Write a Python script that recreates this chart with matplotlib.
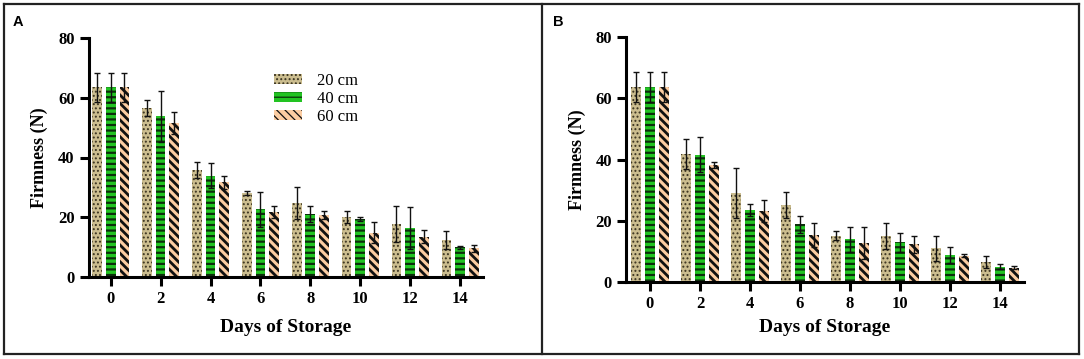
import matplotlib
matplotlib.use("Agg")
import matplotlib.pyplot as plt
import numpy as np
from matplotlib.lines import Line2D

# %%
days = ["0", "2", "4", "6", "8", "10", "12", "14"]
labels = ["20 cm", "40 cm", "60 cm"]

# panel A
a_20 = [63.5, 56.6, 35.8, 28.0, 24.6, 20.1, 17.7, 12.3]
a_20_err = [5.0, 2.8, 2.8, 0.6, 5.4, 2.0, 5.9, 2.9]
a_40 = [63.5, 53.8, 33.9, 22.6, 21.0, 19.4, 16.3, 9.8]
a_40_err = [5.0, 8.6, 4.2, 5.9, 2.6, 0.8, 7.0, 0.6]
a_60 = [63.5, 51.5, 31.7, 21.7, 20.7, 14.8, 13.4, 9.5]
a_60_err = [5.0, 3.7, 2.2, 2.1, 1.4, 3.4, 2.2, 1.1]

# panel B
b_20 = [63.7, 41.7, 29.0, 25.2, 15.2, 15.1, 11.1, 6.7]
b_20_err = [4.9, 4.9, 8.1, 4.3, 1.5, 4.1, 4.1, 2.0]
b_40 = [63.7, 41.5, 23.6, 18.9, 14.0, 13.0, 8.9, 5.1]
b_40_err = [4.9, 5.7, 1.9, 2.7, 4.1, 3.0, 2.7, 0.8]
b_60 = [63.7, 38.2, 23.3, 15.4, 12.9, 12.4, 8.7, 4.8]
b_60_err = [4.9, 1.1, 3.5, 3.8, 5.2, 2.7, 0.5, 0.6]

colors = ["#cbbd8f", "#22c322", "#fccda2"]
hatch_colors = ["#3a3320", "#0b2e0b", "#111111"]
hatches = ["....", "---", "\\\\\\\\"]
hatch_lws = [0.9, 1.6, 2.0]

plt.rcParams["hatch.linewidth"] = 1.4
serif = ["Liberation Serif", "DejaVu Serif"]

W, H = 1084, 359
fig = plt.figure(figsize=(W / 100, H / 100), dpi=100)


def px(l, t, r, b):
    return [l / W, 1 - b / H, (r - l) / W, (b - t) / H]


def plot_panel(ax, series, errs, xlim, legend=False, xpad=6):
    x = np.arange(len(days))
    width = 0.195
    offsets = [-0.274, 0, 0.274]
    for vals, err, c, hc, h, hlw, lab, off in zip(series, errs, colors, hatch_colors,
                                                  hatches, hatch_lws, labels, offsets):
        bars = ax.bar(x + off, vals, width, color=c, edgecolor=hc, linewidth=0,
                      hatch=h, label=lab, zorder=2)
        for b in bars:
            if hasattr(b, "set_hatch_linewidth"):
                b.set_hatch_linewidth(hlw)
        ax.errorbar(x + off, vals, yerr=err, fmt="none", ecolor="#111111",
                    elinewidth=1.0, capsize=2.5, capthick=1.0, zorder=3)
    ax.set_xlim(*xlim)
    ax.set_ylim(0, 80)
    ax.set_yticks([0, 20, 40, 60, 80])
    ax.set_xticks(x)
    ax.set_xticklabels(days)
    for s in ["top", "right"]:
        ax.spines[s].set_visible(False)
    for s in ["left", "bottom"]:
        ax.spines[s].set_linewidth(2.2)
    ax.tick_params(axis="both", direction="out", length=6.5, width=2.2, pad=3.5)
    for t in ax.get_yticklabels() + ax.get_xticklabels():
        t.set_fontfamily(serif)
        t.set_fontweight("bold")
        t.set_fontsize(12)
    ax.set_xlabel("Days of Storage", fontfamily=serif, fontweight="bold",
                  fontsize=14, labelpad=xpad)
    ax.set_ylabel("Firmness (N)", fontfamily=serif, fontweight="bold",
                  fontsize=13, labelpad=7)
    if legend:
        leg = ax.legend(loc="upper left", bbox_to_anchor=(0.471, 0.855), frameon=False,
                        prop={"family": serif, "size": 12}, handlelength=1.68,
                        handleheight=0.48, handletextpad=0.86, labelspacing=0.12,
                        borderpad=0, borderaxespad=0)
        for p in leg.get_patches():
            if hasattr(p, "set_hatch_linewidth"):
                p.set_hatch_linewidth(0.9)


# %%
axA = fig.add_axes(px(88.5, 38.3, 483, 276.7))
plot_panel(axA, [a_20, a_40, a_60], [a_20_err, a_40_err, a_60_err],
           (-0.445, 7.46), legend=True, xpad=9)

axB = fig.add_axes(px(626, 36.7, 1024, 282.3))
plot_panel(axB, [b_20, b_40, b_60], [b_20_err, b_40_err, b_60_err],
           (-0.48, 7.48), xpad=5)

# panel frames
lw = 1.6
for xs, ys in [([4, 1079], [4, 4]), ([4, 1079], [354, 354]),
               ([4, 4], [4, 354]), ([1079, 1079], [4, 354]),
               ([541.5, 541.5], [4, 354])]:
    fig.add_artist(Line2D([v / W for v in xs], [1 - v / H for v in ys],
                          color="#222222", linewidth=lw))

fig.text(13 / W, 1 - 22 / H, "A", fontfamily=["Liberation Sans", "DejaVu Sans"],
         fontweight="bold", fontsize=10.5, va="center", ha="left")
fig.text(553 / W, 1 - 22 / H, "B", fontfamily=["Liberation Sans", "DejaVu Sans"],
         fontweight="bold", fontsize=10.5, va="center", ha="left")

fig.savefig("out.png", dpi=100)
